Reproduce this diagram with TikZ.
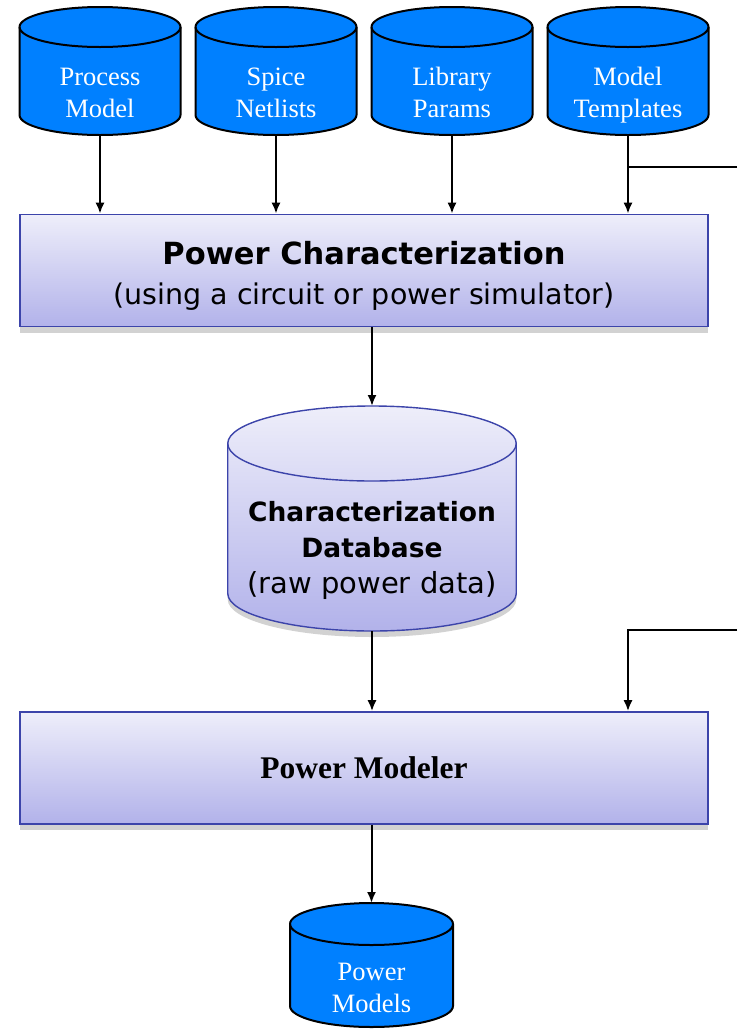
\documentclass[tikz,border=0pt]{standalone}
\usepackage{fontspec}
\setmainfont{Liberation Serif}
\newfontfamily\boxfont{DejaVu Sans}
\usetikzlibrary{arrows.meta,positioning,shadows,backgrounds}
\definecolor{dbblue}{RGB}{0,128,255}
\definecolor{rim}{RGB}{60,68,170}
\definecolor{lilactop}{RGB}{238,238,250}
\definecolor{lilacbot}{RGB}{178,178,234}
\definecolor{shade}{RGB}{210,210,210}

% drum outline behind a face node: name, x radius, y radius, look
\newcommand{\drum}[4]{%
  \begin{scope}[on background layer]
    \path[#4 body] ([yshift=#3]#1.north west) -- ([yshift=#3]#1.south west)
      arc[start angle=180, end angle=360, x radius=#2, y radius=#3]
      -- ([yshift=#3]#1.north east)
      arc[start angle=0, end angle=180, x radius=#2, y radius=#3] -- cycle;
    \draw[#4 rim] ([yshift=#3]#1.north west)
      arc[start angle=180, end angle=360, x radius=#2, y radius=#3];
  \end{scope}
  \coordinate (#1 top) at ([yshift=2*#3]#1.north);
}

\begin{document}
\begin{tikzpicture}[x=1pt, y=-1pt,
  srcface/.style={minimum width=161pt, minimum height=88pt, outer sep=0pt, inner sep=0pt,
                  text height=52pt, text depth=0pt,
                  text=white, align=center, font=\fontsize{26.5}{32}\selectfont},
  src body/.style={draw=black, line width=2pt, fill=dbblue},
  src rim/.style={draw=black, line width=2pt},
  db body/.style={draw=rim, line width=1.4pt, top color=lilactop, bottom color=lilacbot,
                  drop shadow={shadow xshift=0pt, shadow yshift=-6pt, fill=shade, opacity=1}},
  db rim/.style={draw=rim, line width=1.4pt},
  stage/.style={draw=rim, line width=1.6pt, top color=lilactop, bottom color=lilacbot,
                minimum width=688pt, minimum height=112pt, align=center,
                drop shadow={shadow xshift=0pt, shadow yshift=-6pt, fill=shade, opacity=1}},
  arr/.style={-{Latex[length=11pt,width=9pt]}, line width=2pt, black},
  feed/.style={line width=2pt, black}
]
  \useasboundingbox (0,0) rectangle (737,1029);

  % inputs
  \node[srcface] (pm) at (100,91) {Process\\Model};
  \node[srcface, right=15pt of pm] (sn) {Spice\\Netlists};
  \node[srcface, right=15pt of sn] (lp) {Library\\Params};
  \node[srcface, right=15pt of lp] (mt) {Model\\Templates};
  \foreach \s in {pm,sn,lp,mt}
    \drum{\s}{80.5pt}{20pt}{src};

  \node[stage, text height=67pt, text depth=0pt, font=\boxfont\fontsize{28.5}{40}\selectfont] (char) at (364,270.5)
    {{\fontsize{30.5}{40}\selectfont\bfseries Power Characterization}\\(using a circuit or power simulator)};
  \node[minimum width=288.5pt, minimum height=150pt, inner sep=0pt, outer sep=0pt,
        align=center, text depth=18pt, font=\boxfont\fontsize{29}{36}\selectfont] (db) at (372,556)
    {{\fontsize{26.5}{36}\selectfont\bfseries Characterization}\\
     {\fontsize{26.5}{36}\selectfont\bfseries Database}\\(raw power data)};
  \drum{db}{144.25pt}{37.5pt}{db};
  \node[stage, font=\bfseries\fontsize{31.5}{36}\selectfont] (model) at (364,768) {\raisebox{-2pt}{Power Modeler}};
  \node[srcface, minimum width=163pt, minimum height=82pt] (out) at (371.5,986) {Power\\Models};
  \drum{out}{81.5pt}{21pt}{src};

  \foreach \s in {pm,sn,lp,mt}
    \draw[arr] (\s.south) -- (\s.south |- char.north);
  \draw[arr] (db top |- char.south) -- (db top);
  \draw[arr] (db.south) -- (db.south |- model.north);
  \draw[arr] (out top |- model.south) -- (out top);

  % feedback from the right
  \coordinate (edgeA) at (737,167);
  \coordinate (edgeB) at (737,630);
  \draw[feed] (edgeA) -- (edgeA -| mt.south);
  \draw[arr] (edgeB) -| (mt.south |- model.north);
\end{tikzpicture}
\end{document}
